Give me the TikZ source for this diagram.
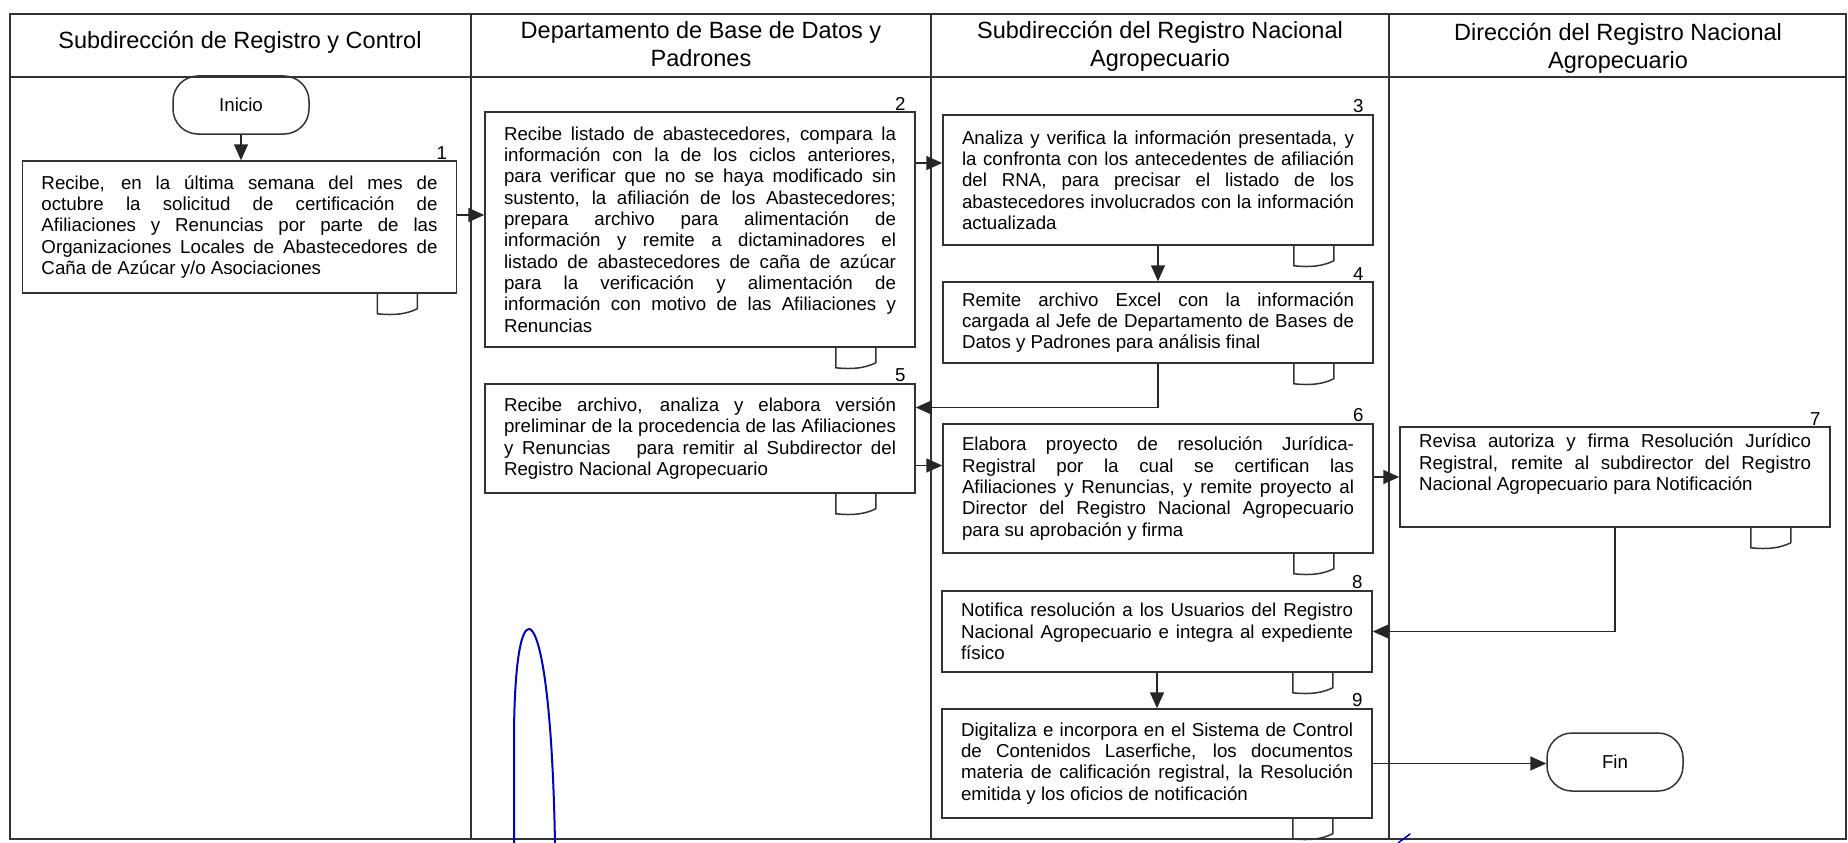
\documentclass[tikz,border=0pt]{standalone}
\usepackage{fontspec}
\setmainfont{Liberation Sans}
\usetikzlibrary{arrows.meta}

\tikzset{
    lane/.style={draw=black!80, line width=1.7pt},
    heading/.style={align=center, font=\fontsize{23.5}{28}\selectfont},
    activity/.style={draw=black!80, line width=1.5pt, text width=392pt,
        inner xsep=19pt, inner ysep=3pt, align=justify,
        font={\fontsize{18.7}{21.3}\selectfont\tolerance=9999\hyphenpenalty=10000}},
    terminal/.style={draw=black!80, line width=1.5pt, rounded corners=25pt,
        minimum width=136pt, minimum height=58pt, font=\fontsize{18.7}{21.3}\selectfont},
    stepnum/.style={anchor=south east, inner sep=1pt, font=\fontsize{18.7}{21.3}\selectfont},
    flow/.style={draw=black!85, line width=1.5pt, -{Triangle[length=16pt,width=14pt]}},
    docmark/.style={draw=black!80, line width=1.5pt},
    ink/.style={draw=blue!75!black, line width=2pt, line cap=round}
}

\begin{document}
\begin{tikzpicture}[x=1pt, y=-1pt]
    \useasboundingbox (0,0) rectangle (1848,843);

    % swimlanes
    \draw[lane] (10,14) rectangle (1846,839);
    \draw[lane] (10,77) -- (1846,77);
    \foreach \x in {471,931,1389} {
        \draw[lane] (\x,14) -- (\x,839);
    }

    \node[heading] (h1) at (240,42) {Subdirección de Registro y Control};
    \node[heading] (h2) at (701,44) {Departamento de Base de Datos y\\Padrones};
    \node[heading] (h3) at (1160,46) {Subdirección del Registro Nacional\\Agropecuario};
    \node[heading] (h4) at (1618,48) {Dirección del Registro Nacional\\Agropecuario};

    % activities
    \node[terminal] (inicio) at (241,105) {Inicio};
    \node[activity, text width=396pt, minimum height=132pt] (b1) at (239.5,227)
        {Recibe, en la última semana del mes de\linebreak octubre la solicitud de certificación de\linebreak Afiliaciones y Renuncias por parte de las\linebreak Organizaciones Locales de Abastecedores de\linebreak Caña de Azúcar y/o Asociaciones};
    \node[activity, minimum height=235pt] (b2) at (700,229.5)
        {Recibe listado de abastecedores, compara la\linebreak información con la de los ciclos anteriores,\linebreak para verificar que no se haya modificado sin\linebreak sustento, la afiliación de los Abastecedores;\linebreak prepara archivo para alimentación de\linebreak información y remite a dictaminadores el\linebreak listado de abastecedores de caña de azúcar\linebreak para la verificación y alimentación de\linebreak información con motivo de las Afiliaciones y\linebreak Renuncias};
    \node[activity, minimum height=130pt] (b3) at (1158,180)
        {Analiza y verifica la información presentada, y\linebreak la confronta con los antecedentes de afiliación\linebreak del RNA, para precisar el listado de los\linebreak abastecedores involucrados con la información\linebreak actualizada};
    \node[activity, minimum height=81pt] (b4) at (1158,322.5)
        {Remite archivo Excel con la información\linebreak cargada al Jefe de Departamento de Bases de\linebreak Datos y Padrones para análisis final};
    \node[activity, minimum height=109pt] (b5) at (700,438.5)
        {Recibe archivo, analiza y elabora versión\linebreak preliminar de la procedencia de las Afiliaciones\linebreak y Renuncias \ \ para remitir al Subdirector del\linebreak Registro Nacional Agropecuario};
    \node[activity, minimum height=129pt] (b6) at (1158,488.5)
        {Elabora proyecto de resolución Jurídica-\linebreak Registral por la cual se certifican las\linebreak Afiliaciones y Renuncias, y remite proyecto al\linebreak Director del Registro Nacional Agropecuario\linebreak para su aprobación y firma};
    \node[activity, minimum height=100pt] (b7) at (1615,477)
        {Revisa autoriza y firma Resolución Jurídico\linebreak Registral, remite al subdirector del Registro\linebreak Nacional Agropecuario para Notificación\\[8pt]};
    \node[activity, minimum height=81pt] (b8) at (1157,631.5)
        {Notifica resolución a los Usuarios del Registro\linebreak Nacional Agropecuario e integra al expediente\linebreak físico};
    \node[activity, minimum height=109pt] (b9) at (1157,763.5)
        {Digitaliza e incorpora en el Sistema de Control\linebreak de Contenidos Laserfiche, los documentos\linebreak materia de calificación registral, la Resolución\linebreak emitida y los oficios de notificación};
    \node[terminal] (fin) at (1615,762) {Fin};

    \foreach \n in {1,...,9} {
        \node[stepnum] (n\n) at ([xshift=-9pt]b\n.north east) {\n};
        \draw[docmark] ([xshift=-80pt]b\n.south east) -- ++(0,20)
            .. controls +(18,2) and +(-10,5) .. ++(40,-5) -- ++(0,-15);
    }

    % connectors
    \draw[flow] (inicio.south) -- (inicio.south |- b1.north);
    \draw[flow] ([yshift=12pt]b1.east) -- ([yshift=12pt]b1.east -| b2.west);
    \draw[flow] ([yshift=17pt]b3.west -| b2.east) -- ([yshift=17pt]b3.west);
    \draw[flow] (b3.south) -- (b4.north);
    \draw[flow] (b4.south) |- ([yshift=31pt]b5.east);
    \draw[flow] ([yshift=-27pt]b5.east) -- ([yshift=-27pt]b5.east -| b6.west);
    \draw[flow] (b7.west -| b6.east) -- (b7.west);
    \draw[flow] (b7.south) |- (b8.east);
    \draw[flow] (b8.south) -- (b9.north);
    \draw[flow] (b9.east) -- (b9.east -| fin.west);

    % pen marks
    \draw[ink] (514,843) -- (514,730) .. controls (515,655) and (522,629) .. (529,629)
        .. controls (538,629) and (552,680) .. (555,843);
    \draw[ink, line width=1.5pt] (1398,843) -- (1410,834);
\end{tikzpicture}
\end{document}
